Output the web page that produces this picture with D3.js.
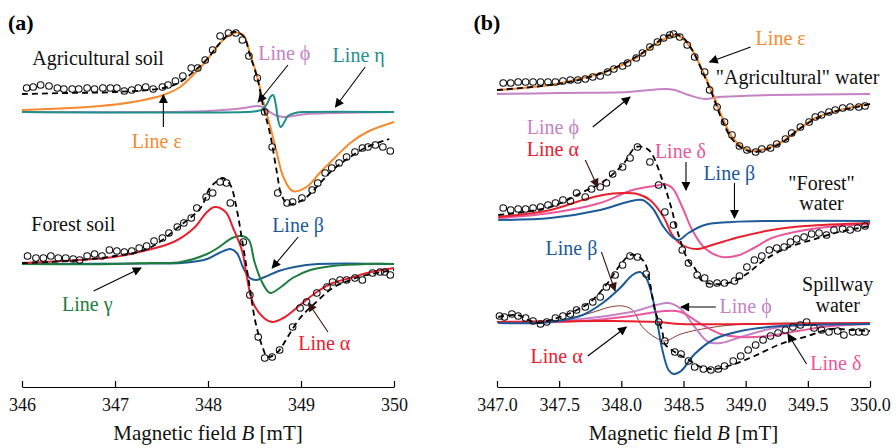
<!DOCTYPE html>
<html>
<head>
<meta charset="utf-8">
<script src="https://cdn.jsdelivr.net/npm/d3@7"></script>
<style>
  body { margin: 0; background: #fff; }
  svg { font-family: "Liberation Serif", "Times New Roman", serif; }
</style>
</head>
<body>
<script>
// ---- data: field B [mT], intensity [a.u., relative to each spectrum's baseline] ----

// (a) agricultural soil
var soilAgriExp = [[346.05,2.4],[346.12,2.5],[346.20,2.7],[346.29,2.6],[346.38,2.4],[346.45,2.3],[346.54,2.3],[346.61,2.3],[346.70,2.4],[346.78,2.3],[346.87,2.4],[346.95,2.4],[347.02,2.4],[347.10,2.1],[347.18,2.2],[347.25,2.4],[347.33,2.5],[347.41,2.3],[347.51,2.5],[347.57,2.7],[347.65,3.1],[347.73,3.6],[347.82,4.4],[347.89,4.4],[347.97,5.2],[348.05,6.2],[348.13,7.6],[348.22,7.9],[348.30,7.9],[348.37,7.2],[348.44,5.6],[348.53,3.4],[348.61,0.0],[348.69,-3.5],[348.75,-8.1],[348.85,-9.1],[348.91,-9.0],[349.01,-8.6],[349.12,-7.8],[349.18,-7.1],[349.26,-6.1],[349.33,-5.6],[349.41,-5.1],[349.49,-4.5],[349.58,-4.0],[349.66,-3.6],[349.72,-3.5],[349.80,-3.3],[349.88,-3.5],[349.96,-3.9]];
var soilAgriFit = [[346.00,1.8],[346.50,1.9],[347.00,2.0],[347.52,2.4],[347.70,3.0],[347.84,4.0],[347.99,5.3],[348.13,6.9],[348.27,8.0],[348.38,7.6],[348.45,5.7],[348.53,3.4],[348.59,0.7],[348.67,-2.3],[348.74,-6.0],[348.79,-8.3],[348.86,-9.2],[348.95,-9.1],[349.06,-8.5],[349.34,-5.8],[349.53,-4.5],[349.71,-3.5],[349.95,-2.7]];
var soilAgriEps = [[346.00,0.2],[346.84,0.6],[347.19,1.0],[347.52,1.7],[347.70,2.5],[347.84,3.7],[347.99,5.2],[348.13,6.9],[348.27,7.9],[348.38,7.7],[348.45,5.9],[348.53,3.5],[348.59,1.2],[348.67,-1.5],[348.74,-4.1],[348.81,-6.5],[348.91,-7.9],[349.06,-7.5],[349.20,-6.1],[349.34,-4.8],[349.53,-3.1],[349.71,-2.0],[350.00,-1.0]];
var soilAgriPhi = [[346.00,0],[347.50,0],[348.00,0.1],[348.30,0.3],[348.45,0.5],[348.53,0.6],[348.59,0.5],[348.65,0.1],[348.72,-0.3],[348.81,-0.5],[348.91,-0.4],[349.06,-0.2],[349.34,-0.1],[350.00,0]];
var soilAgriEta = [[346.00,0],[348.40,0],[348.53,0.1],[348.59,0.3],[348.64,0.9],[348.67,1.5],[348.70,1.7],[348.73,0.7],[348.75,-0.6],[348.78,-1.5],[348.81,-1.2],[348.86,-0.4],[348.94,-0.1],[349.05,0],[350.00,0]];

// (a) forest soil
var soilForestExp = [[346.06,0.8],[346.15,0.6],[346.23,0.6],[346.31,0.8],[346.39,0.6],[346.47,0.6],[346.55,0.5],[346.62,0.4],[346.70,0.8],[346.78,1.0],[346.86,0.8],[346.94,1.4],[347.02,1.3],[347.10,1.2],[347.18,1.3],[347.26,1.6],[347.34,1.8],[347.42,2.3],[347.51,2.6],[347.58,3.1],[347.67,3.7],[347.74,4.1],[347.82,4.6],[347.88,5.6],[347.98,6.7],[348.05,7.1],[348.13,8.2],[348.20,8.1],[348.24,6.1],[348.38,2.2],[348.45,-3.1],[348.54,-7.3],[348.61,-9.4],[348.69,-9.3],[348.77,-8.6],[348.91,-6.3],[348.99,-4.4],[349.06,-3.8],[349.17,-2.9],[349.28,-2.3],[349.34,-1.8],[349.42,-1.6],[349.49,-1.6],[349.58,-1.4],[349.66,-1.6],[349.77,-0.9],[349.85,-0.8],[349.90,-0.8],[349.96,-1.1]];
var soilForestFit = [[346.00,0.1],[346.50,0.3],[347.00,0.8],[347.37,1.6],[347.71,3.9],[347.92,5.6],[348.02,7.6],[348.10,8.3],[348.16,8.6],[348.24,7.9],[348.30,5.9],[348.37,2.2],[348.44,-1.8],[348.51,-5.8],[348.59,-8.4],[348.64,-9.3],[348.75,-8.8],[348.85,-7.4],[348.99,-5.4],[349.13,-4.1],[349.34,-2.4],[349.53,-1.6],[349.71,-1.1],[350.00,-0.6]];
var soilForestAlpha = [[346.00,0.1],[346.99,0.7],[347.35,1.4],[347.63,2.2],[347.85,3.6],[347.98,5.1],[348.07,5.7],[348.19,5.2],[348.27,3.6],[348.37,1.2],[348.42,-1.4],[348.48,-3.8],[348.59,-5.3],[348.69,-5.8],[348.81,-5.4],[348.99,-4.1],[349.17,-2.8],[349.34,-1.9],[349.53,-1.4],[349.71,-0.9],[350.00,-0.4]];
var soilForestBeta = [[346.00,0],[347.40,0.05],[347.71,0.1],[347.99,0.5],[348.12,1.1],[348.24,1.5],[348.31,1.1],[348.38,-0.4],[348.45,-1.4],[348.52,-1.6],[348.61,-1.3],[348.76,-0.7],[348.93,-0.3],[349.18,0],[350.00,0]];
var soilForestGamma = [[346.00,0],[347.00,0],[347.37,0.1],[347.71,0.2],[347.99,1.0],[348.12,1.7],[348.26,2.6],[348.37,2.8],[348.44,2.4],[348.50,0.2],[348.58,-1.8],[348.65,-2.8],[348.68,-2.9],[348.77,-2.4],[348.91,-1.4],[349.10,-0.6],[349.34,-0.2],[349.71,0],[350.00,0]];

// (b) "agricultural" water
var waterAgriExp = [[347.05,1.1],[347.11,1.1],[347.17,1.2],[347.23,1.2],[347.29,1.2],[347.35,1.2],[347.41,1.2],[347.47,1.2],[347.53,1.3],[347.59,1.4],[347.65,1.4],[347.71,1.5],[347.77,1.7],[347.83,1.8],[347.89,2.2],[347.94,2.5],[348.01,2.8],[348.05,3.1],[348.12,3.6],[348.17,4.1],[348.23,4.7],[348.29,5.2],[348.34,5.6],[348.39,5.9],[348.42,6.0],[348.47,5.7],[348.53,4.9],[348.59,3.7],[348.67,2.2],[348.71,0.4],[348.77,-1.3],[348.83,-2.8],[348.89,-4.1],[348.95,-5.2],[349.01,-5.6],[349.08,-5.8],[349.13,-5.5],[349.20,-5.4],[349.25,-5.0],[349.32,-4.5],[349.37,-3.9],[349.44,-3.3],[349.51,-2.8],[349.56,-2.3],[349.61,-2.1],[349.67,-1.8],[349.72,-1.6],[349.78,-1.4],[349.84,-1.3],[349.91,-1.3],[349.96,-1.2]];
var waterAgriFit = [[347.00,0.4],[347.43,0.9],[347.69,1.5],[347.91,2.4],[348.13,3.8],[348.29,5.2],[348.41,6.0],[348.49,5.7],[348.57,4.4],[348.65,2.3],[348.73,0.0],[348.81,-2.6],[348.89,-4.5],[348.97,-5.4],[349.06,-5.8],[349.15,-5.6],[349.29,-4.9],[349.42,-3.6],[349.56,-2.5],[349.70,-1.8],[349.86,-1.4],[350.00,-1.0]];
var waterAgriEps = [[347.00,0.4],[347.43,0.9],[347.69,1.6],[347.91,2.4],[348.13,3.7],[348.29,5.1],[348.43,5.9],[348.49,5.6],[348.57,4.4],[348.65,2.4],[348.73,0.2],[348.81,-2.3],[348.89,-4.3],[348.97,-5.3],[349.06,-5.7],[349.15,-5.5],[349.29,-4.8],[349.42,-3.6],[349.56,-2.4],[349.70,-1.8],[349.86,-1.3],[350.00,-1.0]];
var waterAgriPhi = [[347.00,0],[347.50,0.1],[348.05,0.2],[348.35,0.5],[348.43,0.4],[348.54,-0.1],[348.67,-0.5],[348.79,-0.3],[348.97,-0.2],[349.21,-0.1],[350.00,0]];

// (b) "forest" water
var waterForestExp = [[347.05,1.4],[347.11,1.2],[347.17,1.3],[347.23,1.3],[347.29,1.4],[347.35,1.5],[347.41,1.7],[347.47,1.9],[347.53,2.2],[347.59,2.1],[347.64,2.9],[347.71,2.5],[347.76,3.3],[347.83,3.5],[347.88,3.9],[347.93,4.8],[348.01,5.5],[348.07,6.4],[348.13,7.5],[348.23,6.0],[348.30,3.7],[348.35,1.0],[348.42,-0.3],[348.49,-2.8],[348.54,-4.1],[348.61,-5.3],[348.67,-5.6],[348.71,-6.2],[348.77,-6.1],[348.83,-6.1],[348.91,-5.9],[348.95,-5.4],[349.01,-4.5],[349.07,-3.8],[349.13,-3.4],[349.19,-2.8],[349.25,-2.6],[349.31,-2.5],[349.36,-2.0],[349.41,-1.7],[349.47,-1.5],[349.53,-1.2],[349.59,-1.1],[349.65,-1.3],[349.71,-0.8],[349.78,-0.7],[349.84,-0.8],[349.90,-0.6],[349.96,-0.4]];
var waterForestFit = [[347.01,0.7],[347.43,1.5],[347.69,3.0],[347.85,4.0],[348.01,5.7],[348.12,7.5],[348.22,7.2],[348.33,4.2],[348.40,1.5],[348.45,-0.9],[348.54,-3.9],[348.59,-4.6],[348.65,-5.9],[348.75,-6.2],[348.89,-6.0],[349.02,-5.1],[349.15,-3.8],[349.35,-2.5],[349.53,-1.8],[349.75,-1.0],[350.00,-0.4]];
var waterForestAlpha = [[347.01,0.5],[347.43,1.2],[347.69,2.2],[347.85,2.7],[348.01,2.9],[348.13,2.8],[348.23,2.2],[348.34,0.5],[348.41,-1.3],[348.49,-2.3],[348.61,-2.7],[348.73,-2.3],[348.95,-1.5],[349.21,-0.8],[349.48,-0.4],[350.00,-0.1]];
var waterForestBeta = [[347.01,0.2],[347.43,0.4],[347.83,1.2],[348.05,2.0],[348.17,2.2],[348.25,1.4],[348.34,-0.5],[348.41,-1.5],[348.46,-1.8],[348.54,-1.1],[348.67,-0.3],[348.89,0.0],[350.00,0.1]];
var waterForestDelta = [[347.01,0.4],[347.43,0.9],[347.83,1.9],[348.09,3.2],[348.31,3.7],[348.34,3.8],[348.41,3.4],[348.49,1.5],[348.57,-0.8],[348.67,-2.6],[348.81,-3.5],[348.95,-3.3],[349.08,-2.5],[349.21,-1.6],[349.48,-0.8],[349.75,-0.4],[350.00,-0.2]];

// (b) spillway water
var spillExp = [[347.02,0.7],[347.06,0.6],[347.12,0.9],[347.17,0.7],[347.23,0.5],[347.29,0.2],[347.35,-0.1],[347.40,0.1],[347.47,0.5],[347.53,0.7],[347.59,0.9],[347.64,1.3],[347.71,1.6],[347.77,2.1],[347.83,2.6],[347.88,3.6],[347.95,4.8],[348.01,5.8],[348.07,6.7],[348.13,6.6],[348.20,4.9],[348.30,0.1],[348.35,-1.8],[348.43,-2.9],[348.48,-3.1],[348.54,-3.8],[348.59,-4.4],[348.66,-4.6],[348.72,-4.7],[348.78,-4.6],[348.83,-4.3],[348.90,-3.8],[348.96,-3.3],[349.02,-2.7],[349.08,-2.2],[349.14,-1.7],[349.20,-1.3],[349.26,-1.0],[349.32,-0.7],[349.38,-0.4],[349.44,-0.2],[349.49,0.1],[349.55,-0.5],[349.61,-0.7],[349.67,-0.9],[349.74,-0.8],[349.79,-1.2],[349.86,-0.9],[349.91,-0.9],[349.96,-0.9]];
var spillFit = [[347.01,0.6],[347.16,0.8],[347.32,0.0],[347.43,0.3],[347.59,1.0],[347.75,2.1],[347.89,4.0],[347.99,5.8],[348.07,6.8],[348.13,6.7],[348.19,6.0],[348.23,4.0],[348.27,1.3],[348.33,-0.9],[348.35,-2.1],[348.43,-2.9],[348.53,-3.6],[348.64,-4.4],[348.75,-4.6],[348.91,-4.1],[349.07,-3.3],[349.28,-2.1],[349.50,-1.3],[349.69,-0.6],[349.85,-0.7],[350.00,-0.8]];
var spillAlpha = [[347.00,0.1],[347.94,0.2],[348.29,0.1],[348.48,-0.1],[349.02,-0.1],[350.00,0]];
var spillThin = [[347.01,0],[347.43,0.1],[347.75,1.0],[347.91,1.6],[348.01,1.7],[348.09,1.3],[348.17,-0.4],[348.28,-1.5],[348.35,-1.8],[348.48,-1.1],[348.75,-0.4],[349.02,-0.1],[350.00,0]];
var spillBeta = [[347.01,0],[347.43,0.1],[347.69,0.8],[347.85,2.0],[347.99,3.5],[348.09,4.8],[348.15,5.1],[348.20,4.5],[348.25,2.6],[348.29,0],[348.33,-2.7],[348.38,-4.7],[348.42,-5.1],[348.48,-4.8],[348.59,-3.1],[348.75,-1.6],[348.96,-0.8],[349.28,-0.3],[350.00,-0.1]];
var spillPhi = [[347.01,0],[347.68,0.4],[348.08,1.1],[348.38,2.0],[348.48,1.4],[348.59,-0.4],[348.70,-1.9],[348.80,-2.0],[348.96,-1.4],[349.28,-0.4],[350.00,-0.1]];
var spillDelta = [[347.01,0],[347.68,0.2],[348.08,0.7],[348.35,1.2],[348.48,1.1],[348.64,-0.1],[348.80,-1.1],[348.96,-1.4],[349.18,-1.3],[349.42,-0.8],[349.69,-0.3],[350.00,-0.1]];

// baselines of the stacked spectra [a.u.]
var offsetsSoil = [27.6, 12.4];        // agricultural, forest
var offsetsWater = [29.4, 16.6, 6.5];  // agricultural, forest, spillway

var ticksA = [346, 347, 348, 349, 350];
var ticksB = [347.0, 347.5, 348.0, 348.5, 349.0, 349.5, 350.0];

var col = {
  eps: "#f58a2e", phi: "#c582c5", eta: "#1f8f8c", alpha: "#e8202e",
  beta: "#1c5a9a", gamma: "#1e7d3c", delta: "#e9579d", thin: "#8a3b2e"
};

var W = 896, H = 448;
var svg = d3.select("body").append("svg").attr("width", W).attr("height", H);

var y = d3.scaleLinear().domain([0, 38.8]).range([388, 0]);
var xA = d3.scaleLinear().domain([346, 350]).range([22, 394]);
var xB = d3.scaleLinear().domain([347, 350]).range([497, 870]);

var defs = svg.append("defs");
["#000", "#3b1414"].forEach(function(c, i) {
  defs.append("marker").attr("id", "ah" + i)
    .attr("viewBox", "0 0 10 10").attr("refX", 9).attr("refY", 5)
    .attr("markerUnits", "userSpaceOnUse")
    .attr("markerWidth", 11).attr("markerHeight", 9).attr("orient", "auto")
    .append("path").attr("d", "M0,0 L10,5 L0,10 z").attr("fill", c);
});

function drawLine(x, data, off, color, width, dash) {
  var line = d3.line()
    .x(function(d) { return x(d[0]); })
    .y(function(d) { return y(d[1] + off); })
    .curve(d3.curveCatmullRom.alpha(0.5));
  svg.append("path").datum(data)
    .attr("d", line).attr("fill", "none")
    .attr("stroke", color).attr("stroke-width", width)
    .attr("stroke-dasharray", dash || null);
}

function drawExp(x, data, off) {
  svg.append("g").selectAll("circle").data(data).enter().append("circle")
    .attr("cx", function(d) { return x(d[0]); })
    .attr("cy", function(d) { return y(d[1] + off); })
    .attr("r", 3.3).attr("fill", "none")
    .attr("stroke", "#111").attr("stroke-width", 1.1);
}

function label(x, b, v, txt, color, opts) {
  opts = opts || {};
  svg.append("text").attr("x", x(b)).attr("y", y(v))
    .attr("fill", color).attr("font-size", opts.size || 20)
    .attr("font-weight", opts.bold ? "bold" : null)
    .attr("text-anchor", opts.anchor || "start")
    .text(txt);
}

function arrow(x, b1, v1, b2, v2, dark) {
  svg.append("line")
    .attr("x1", x(b1)).attr("y1", y(v1)).attr("x2", x(b2)).attr("y2", y(v2))
    .attr("stroke", dark ? "#3b1414" : "#000").attr("stroke-width", 1.1)
    .attr("marker-end", "url(#ah" + (dark ? 1 : 0) + ")");
}

function axis(x, ticks, fmt) {
  var g = svg.append("g").attr("transform", "translate(0,387)")
    .call(d3.axisBottom(x).tickValues(ticks).tickFormat(fmt)
      .tickSizeInner(-6).tickSizeOuter(0).tickPadding(11));
  g.select(".domain").attr("stroke-width", 1.2);
  g.selectAll(".tick line").attr("stroke-width", 1.2);
  g.selectAll("text").attr("font-family", "Liberation Serif, Times New Roman, serif")
    .attr("font-size", 18).attr("fill", "#111");
  var r = x.range();
  var t = svg.append("text").attr("x", (r[0] + r[1]) / 2).attr("y", 440)
    .attr("text-anchor", "middle").attr("font-size", 21).attr("fill", "#111");
  t.append("tspan").text("Magnetic field ");
  t.append("tspan").attr("font-style", "italic").text("B");
  t.append("tspan").text(" [mT]");
}

// ---------- panel (a) ----------
var oa = offsetsSoil[0], of = offsetsSoil[1];
drawLine(xA, soilAgriEps, oa, col.eps, 2);
drawLine(xA, soilAgriPhi, oa, col.phi, 2);
drawLine(xA, soilAgriEta, oa, col.eta, 2);
drawLine(xA, soilAgriFit, oa, "#000", 1.8, "6,4");
drawExp(xA, soilAgriExp, oa);

drawLine(xA, soilForestBeta, of, col.beta, 2);
drawLine(xA, soilForestGamma, of, col.gamma, 2);
drawLine(xA, soilForestAlpha, of, col.alpha, 2);
drawLine(xA, soilForestFit, of, "#000", 1.8, "6,4");
drawExp(xA, soilForestExp, of);

axis(xA, ticksA, d3.format("d"));

label(xA, 345.85, 35.8, "(a)", "#000", { bold: true, size: 22 });
label(xA, 346.11, 32.3, "Agricultural soil", "#111");
label(xA, 348.54, 32.8, "Line \u03D5", col.phi);
label(xA, 349.34, 32.6, "Line \u03B7", col.eta);
label(xA, 347.18, 24.0, "Line \u03B5", col.eps);
arrow(xA, 347.52, 26.1, 347.52, 29.3);
arrow(xA, 348.86, 32.3, 348.54, 28.6);
arrow(xA, 349.69, 32.1, 349.37, 28.1);

label(xA, 346.10, 15.7, "Forest soil", "#111");
label(xA, 346.43, 7.7, "Line \u03B3", col.gamma);
arrow(xA, 346.77, 9.7, 347.28, 12.0);
label(xA, 348.69, 15.6, "Line \u03B2", col.beta);
arrow(xA, 348.97, 15.1, 348.69, 12.0);
label(xA, 348.97, 3.8, "Line \u03B1", col.alpha);
arrow(xA, 349.29, 5.6, 349.08, 8.5, true);

// ---------- panel (b) ----------
var wa = offsetsWater[0], wf = offsetsWater[1], ws = offsetsWater[2];
drawLine(xB, waterAgriPhi, wa, col.phi, 2);
drawLine(xB, waterAgriEps, wa, col.eps, 2.2);
drawLine(xB, waterAgriFit, wa, "#000", 1.8, "6,4");
drawExp(xB, waterAgriExp, wa);

drawLine(xB, waterForestDelta, wf, col.delta, 2);
drawLine(xB, waterForestAlpha, wf, col.alpha, 2);
drawLine(xB, waterForestBeta, wf, col.beta, 2);
drawLine(xB, waterForestFit, wf, "#000", 1.8, "6,4");
drawExp(xB, waterForestExp, wf);

drawLine(xB, spillThin, ws, col.thin, 1);
drawLine(xB, spillPhi, ws, col.phi, 2);
drawLine(xB, spillDelta, ws, col.delta, 2);
drawLine(xB, spillAlpha, ws, col.alpha, 2);
drawLine(xB, spillBeta, ws, col.beta, 2);
drawLine(xB, spillFit, ws, "#000", 1.8, "6,4");
drawExp(xB, spillExp, ws);

axis(xB, ticksB, d3.format(".1f"));

label(xB, 346.81, 35.8, "(b)", "#000", { bold: true, size: 22 });
label(xB, 349.08, 34.3, "Line \u03B5", col.eps);
arrow(xB, 349.04, 34.1, 348.71, 32.6);
label(xB, 348.76, 30.4, "\"Agricultural\" water", "#111");
label(xB, 347.24, 25.4, "Line \u03D5", col.phi);
arrow(xB, 347.77, 26.1, 348.07, 29.1);
label(xB, 347.24, 23.2, "Line \u03B1", col.alpha);
arrow(xB, 347.71, 22.8, 347.81, 20.1, true);
label(xB, 348.27, 23.0, "Line \u03B4", col.delta);
arrow(xB, 348.52, 22.6, 348.52, 19.8);
label(xB, 348.66, 20.8, "Line \u03B2", col.beta);
arrow(xB, 348.91, 20.5, 348.91, 17.0);
label(xB, 349.61, 19.8, "\"Forest\"", "#111", { anchor: "middle" });
label(xB, 349.61, 17.8, "water", "#111", { anchor: "middle" });

label(xB, 347.39, 13.3, "Line \u03B2", col.beta);
arrow(xB, 347.84, 13.6, 347.95, 9.7, true);
label(xB, 347.27, 2.5, "Line \u03B1", col.alpha);
arrow(xB, 347.73, 3.2, 348.04, 6.1);
label(xB, 348.79, 7.5, "Line \u03D5", col.phi);
arrow(xB, 348.76, 8.1, 348.48, 8.1);
label(xB, 349.52, 1.8, "Line \u03B4", col.delta);
arrow(xB, 349.49, 2.4, 349.34, 5.4);
label(xB, 349.74, 9.7, "Spillway", "#111", { anchor: "middle" });
label(xB, 349.74, 7.6, "water", "#111", { anchor: "middle" });
</script>
</body>
</html>
